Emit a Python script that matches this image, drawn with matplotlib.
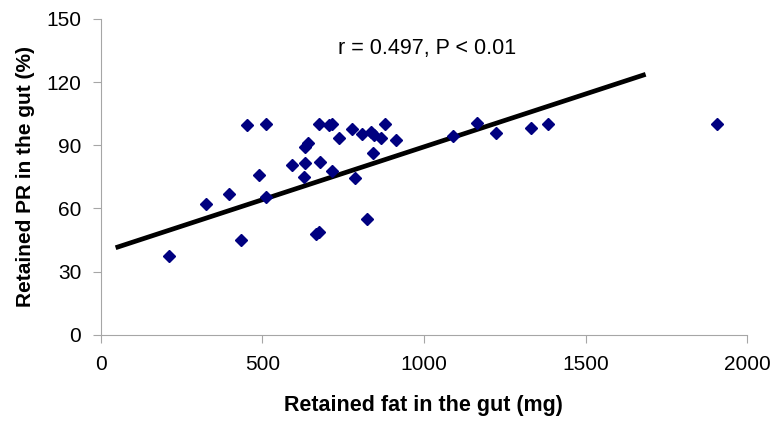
import numpy as np
import matplotlib
matplotlib.use("Agg")
import matplotlib.pyplot as plt

plt.rcParams['font.family'] = ['Liberation Sans', 'DejaVu Sans']

# retained fat (mg) vs retained PR (%)
fat_mg = [212, 326, 397, 433, 452, 491, 511, 511, 593, 629, 632, 632, 642,
          665, 675, 676, 678, 706, 715, 717, 738, 777, 786, 809, 823, 836,
          842, 846, 867, 880, 913, 1091, 1163, 1223, 1330, 1383, 1906]
pr_pct = [37.5, 62.0, 66.8, 44.9, 99.6, 76.1, 99.9, 65.5, 80.6, 75.0, 89.0,
          81.7, 91.2, 47.6, 99.9, 48.9, 82.1, 99.6, 77.7, 99.9, 93.3, 97.5,
          74.5, 95.3, 54.9, 96.4, 86.1, 94.8, 93.3, 99.9, 92.4, 94.3, 100.4,
          95.9, 98.0, 99.9, 99.9]

# regression line ends
fit_x = [46, 1686]
fit_y = [41.3, 123.7]

x_ticks = [0, 500, 1000, 1500, 2000]
y_ticks = [0, 30, 60, 90, 120, 150]

fig = plt.figure(figsize=(7.75, 4.22), dpi=100)
ax = fig.add_axes([0.130, 0.207, 0.834, 0.748])

ax.plot(fat_mg, pr_pct, linestyle='none', marker='D', markersize=6.2,
        color='#000080', markeredgecolor='#000080', zorder=3)
ax.plot(fit_x, fit_y, color='black', linewidth=3.4, solid_capstyle='butt', zorder=2)

ax.set_xlim(0, 2000)
ax.set_ylim(0, 150)
ax.set_xticks(x_ticks)
ax.set_yticks(y_ticks)

for s in ['top', 'right']:
    ax.spines[s].set_visible(False)
for s in ['left', 'bottom']:
    ax.spines[s].set_color('#a6a6a6')
    ax.spines[s].set_linewidth(0.8)
ax.tick_params(axis='both', colors='#a6a6a6', length=6, width=0.8,
               labelcolor='black', labelsize=15)
ax.tick_params(axis='x', pad=9)
ax.tick_params(axis='y', pad=8)

ax.set_xlabel('Retained fat in the gut (mg)', fontsize=15.5, fontweight='bold', labelpad=15)
ax.set_ylabel('Retained PR in the gut (%)', fontsize=15, fontweight='bold', labelpad=8)

ax.text(0.505, 0.905, 'r = 0.497, P < 0.01', transform=ax.transAxes,
        ha='center', va='center', fontsize=15.5)

fig.savefig('out.png', dpi=100)
